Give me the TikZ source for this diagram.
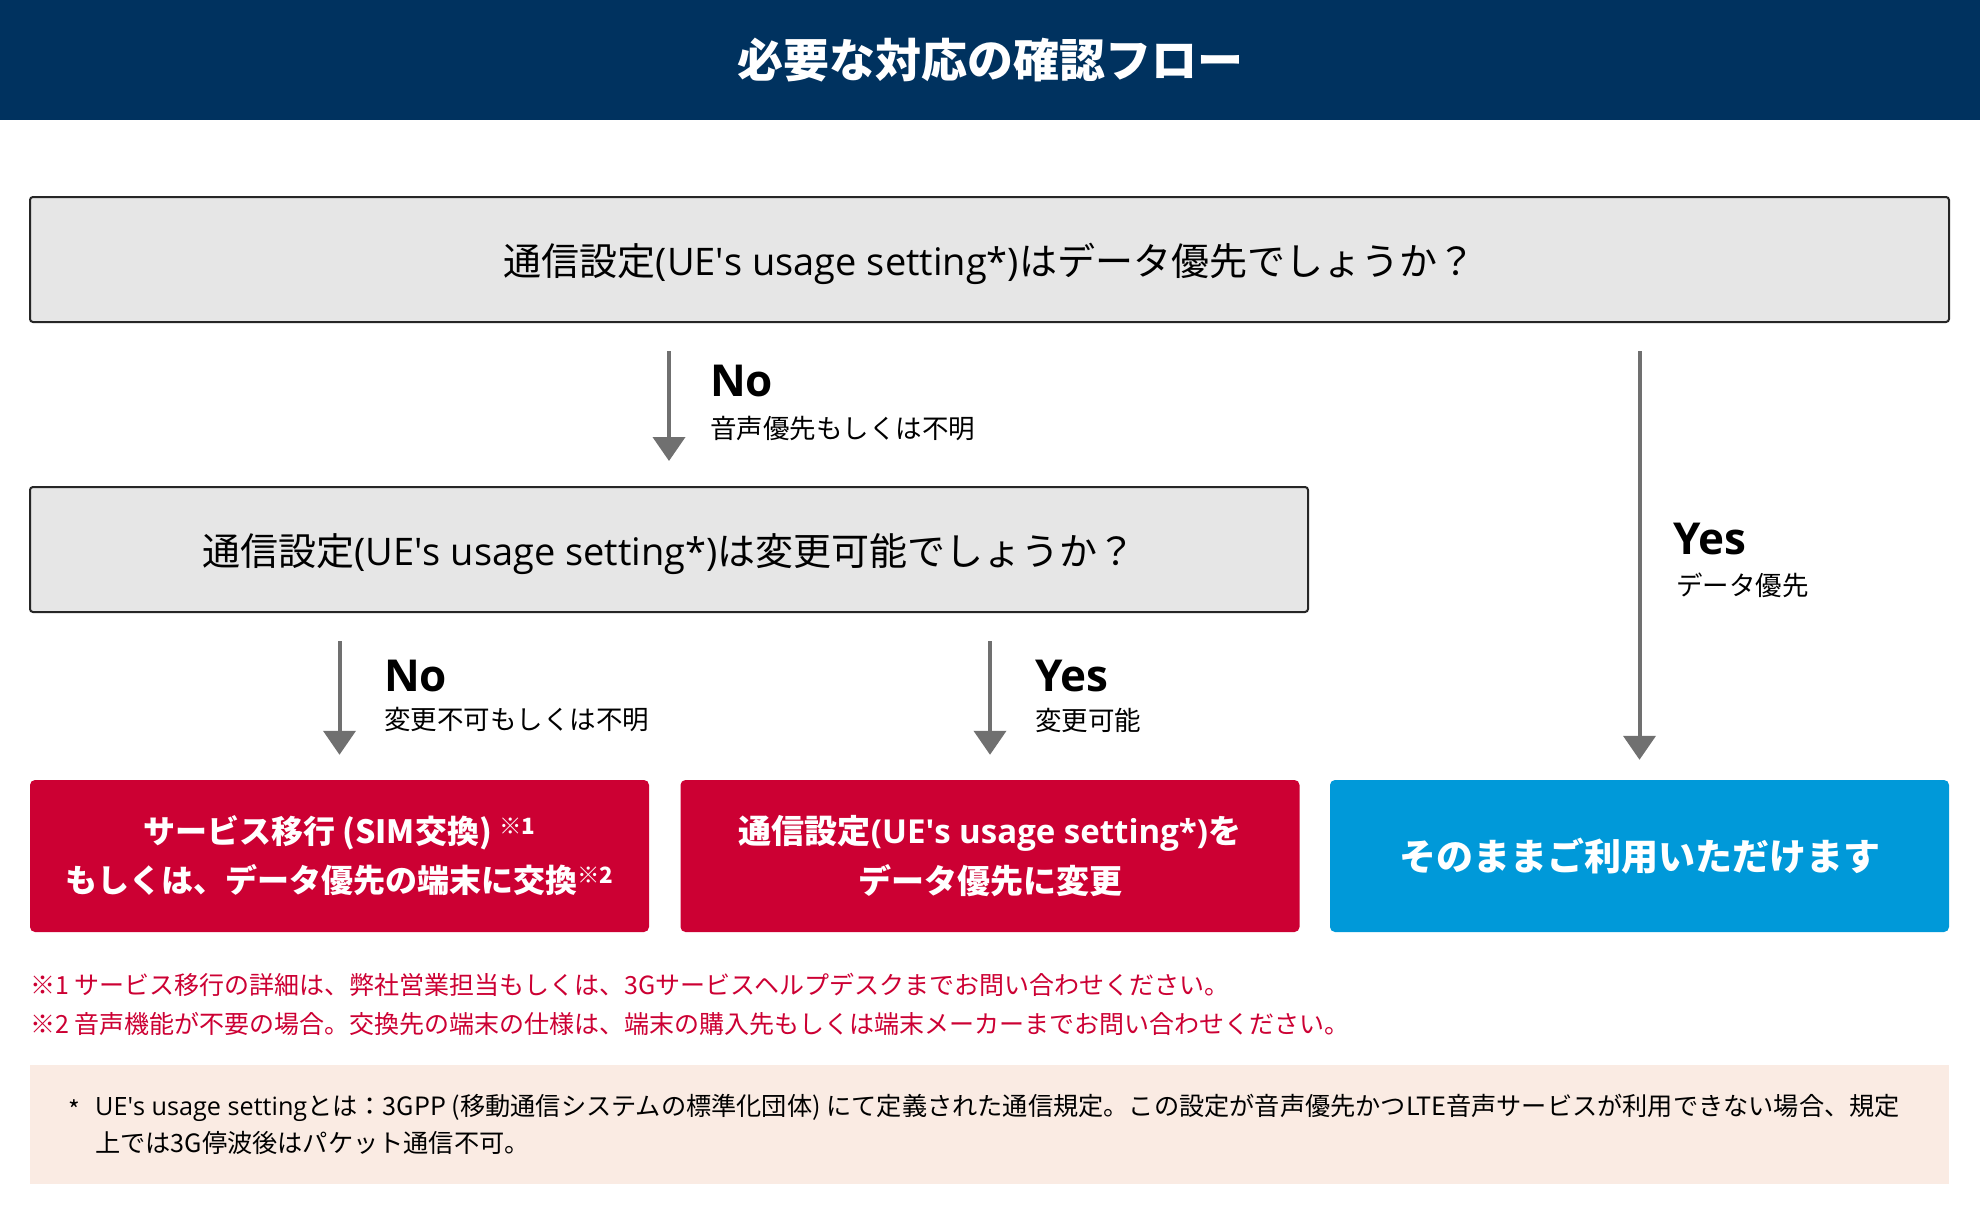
\documentclass[tikz,border=0pt]{standalone}
\usepackage{fontspec}
\setmainfont{Noto Sans CJK JP}
\newfontfamily\latinfont{Open Sans}
\newcommand\lat[1]{{\latinfont #1}}
\newcommand\ue{UE\textquotesingle s usage setting}
\usetikzlibrary{arrows.meta, positioning}
\definecolor{navy}{HTML}{00325F}
\definecolor{boxgray}{HTML}{E6E6E6}
\definecolor{alertred}{HTML}{CC0033}
\definecolor{okblue}{HTML}{0099D9}
\definecolor{notebg}{HTML}{FAEBE3}
\definecolor{arrowgray}{HTML}{707070}

\begin{document}
\begin{tikzpicture}[x=1pt,y=-1pt,
  >={Triangle[width=32pt,length=24pt]},
  question/.style={draw=black!85,line width=2pt,fill=boxgray,rounded corners=3pt,
    minimum height=125pt,inner sep=0pt,text depth=0pt,font=\fontsize{38}{42}\selectfont},
  result/.style={rounded corners=5pt,text=white,minimum width=619pt,minimum height=152pt,
    inner sep=0pt,align=center,font=\fontsize{32}{49}\selectfont\bfseries},
  flow/.style={->,draw=arrowgray,fill=arrowgray,line width=4pt,shorten <=28pt,shorten >=25pt},
  answer/.style={anchor=west,inner sep=0pt,font=\latinfont\fontsize{44}{48}\selectfont\bfseries},
  reason/.style={anchor=west,inner sep=0pt,font=\fontsize{26.5}{30}\selectfont},
  footnote/.style={anchor=west,inner sep=0pt,text=alertred,font=\fontsize{25}{30}\selectfont}]

\useasboundingbox (0,0) rectangle (1980,1220);

% Header
\node[fill=navy,text=white,minimum width=1980pt,minimum height=120pt,inner sep=0pt,
  font=\fontsize{46}{50}\selectfont\bfseries] (title) at (990,60) {必要な対応の確認フロー};

% Questions
\node[question,minimum width=1919pt] (q1) at (989.5,259.5)
  {通信設定\lat{(\ue*)}はデータ優先でしょうか？};
\node[question,minimum width=1278pt] (q2) at (669,549.5)
  {通信設定\lat{(\ue*)}は変更可能でしょうか？};

% Results
\node[result,fill=alertred] (swap) at (339.5,856)
  {サービス移行 (SIM交換) \textsuperscript{※1}\\もしくは、データ優先の端末に交換\textsuperscript{※2}};
\node[result,fill=alertred,font=\fontsize{33}{50}\selectfont\bfseries] (change) at (990,856)
  {通信設定\lat{(\ue*)}を\\データ優先に変更};
\node[result,fill=okblue,font=\fontsize{37}{44}\selectfont\bfseries] (ok) at (1639.5,856)
  {そのままご利用いただけます};

% Arrows
\draw[flow] (q1.south -| q2.north) -- (q2.north);
\draw[flow,shorten >=20pt] (q1.south -| ok.north) -- (ok.north);
\draw[flow] (q2.south -| swap.north) -- (swap.north);
\draw[flow] (q2.south -| change.north) -- (change.north);

% Answer labels
\node[answer] (no1) at (710,381) {No};
\node[reason] (no1r) at (710,428) {音声優先もしくは不明};
\node[answer] (yes1) at (1673,539) {Yes};
\node[reason] (yes1r) at (1676,585) {データ優先};
\node[answer] (no2) at (384,676) {No};
\node[reason] (no2r) at (384,720) {変更不可もしくは不明};
\node[answer] (yes2) at (1035,676) {Yes};
\node[reason] (yes2r) at (1035,720) {変更可能};

% Footnotes
\node[footnote] (fn1) at (30,985)
  {※1 サービス移行の詳細は、弊社営業担当もしくは、3Gサービスヘルプデスクまでお問い合わせください。};
\node[footnote] (fn2) at (30,1024)
  {※2 音声機能が不要の場合。交換先の端末の仕様は、端末の購入先もしくは端末メーカーまでお問い合わせください。};

% Definition box
\node[fill=notebg,minimum width=1919pt,minimum height=119pt,inner sep=0pt] (defbox) at (989.5,1124) {};
\node[inner sep=0pt,font=\fontsize{25}{30}\selectfont] (star) at (74,1110) {*};
\node[anchor=west,align=left,inner sep=0pt,font=\fontsize{25.2}{37}\selectfont] (deftext) at (95,1124.5)
  {\lat{\ue}とは：3GPP (移動通信システムの標準化団体) にて定義された通信規定。この設定が音声優先かつLTE音声サービスが利用できない場合、規定\\
   上では3G停波後はパケット通信不可。};

\end{tikzpicture}
\end{document}
